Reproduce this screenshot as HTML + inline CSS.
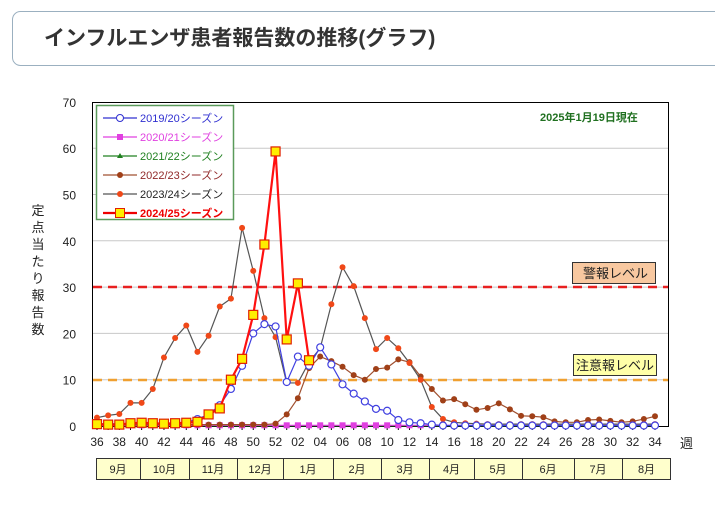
<!DOCTYPE html>
<html><head><meta charset="utf-8"><style>
body{margin:0;background:#fff;width:715px;height:502px;overflow:hidden;font-family:"Liberation Sans","Noto Sans CJK JP",sans-serif}
</style></head><body>
<svg id="s" width="715" height="502" xmlns="http://www.w3.org/2000/svg" font-family="Liberation Sans, Noto Sans CJK JP, sans-serif">
<rect x="12.5" y="11.5" width="720" height="54" rx="8" fill="#fff" stroke="#9bb0c0"/>
<text x="44" y="45" font-size="21" font-weight="bold" fill="#333">インフルエンザ患者報告数の推移(グラフ)</text>
<g id="grid"></g>
<rect x="92.5" y="102.5" width="576" height="324" fill="none" stroke="#000"/>
<line x1="93" y1="287" x2="668" y2="287" stroke="#e82020" stroke-width="2.5" stroke-dasharray="9,6"/>
<line x1="93" y1="380" x2="668" y2="380" stroke="#f0a030" stroke-width="2.5" stroke-dasharray="9,6"/>
<rect x="572.5" y="262.5" width="83" height="21" fill="#f8c8a0" stroke="#333"/>
<text x="583" y="278" font-size="13" fill="#222">警報レベル</text>
<rect x="573.5" y="354.5" width="83" height="21" fill="#ffffa8" stroke="#333"/>
<text x="576" y="370" font-size="13" fill="#222">注意報レベル</text>
<text x="540" y="121" font-size="11" font-weight="bold" fill="#207020">2025年1月19日現在</text>
<g id="series"></g>
<rect x="96.5" y="105.5" width="137" height="114" fill="#fff" stroke="#5a9a5a" stroke-width="1.5"/>
<g id="legend" font-size="11"></g>
<text x="680" y="448" font-size="13" fill="#222">週</text>
<g id="months" font-size="11" fill="#222"></g>
<g font-size="13" fill="#222" text-anchor="middle">
<text x="38" y="215">定</text><text x="38" y="232">点</text><text x="38" y="249">当</text><text x="38" y="266">た</text><text x="38" y="283">り</text><text x="38" y="300">報</text><text x="38" y="317">告</text><text x="38" y="334">数</text>
</g>
</svg>
<script>
var NS="http://www.w3.org/2000/svg";
function el(p,t,a,txt){var e=document.createElementNS(NS,t);for(var k in a)e.setAttribute(k,a[k]);if(txt!=null)e.textContent=txt;document.getElementById(p).appendChild(e);return e;}
function X(i){return 97+11.16*i}
function Y(v){return 426-v*4.63}
for(var v=0;v<=70;v+=10){var y=Y(v);if(v>0&&v<70)el("grid","line",{x1:93,y1:y,x2:668,y2:y,stroke:"#c8c8c8"});el("grid","text",{x:76,y:y+5,"font-size":12,"text-anchor":"end",fill:"#222"},v);}
var wk=[];for(var w=36;w<=52;w++)wk.push(w);for(var w=1;w<=34;w++)wk.push(w);
wk.forEach(function(w,i){el("grid","line",{x1:X(i),y1:426,x2:X(i),y2:430,stroke:"#000"});if(i%2==0)el("grid","text",{x:X(i),y:446,"font-size":12,"text-anchor":"middle",fill:"#222"},(w<10?"0":"")+w);});
var n=51;
function fill(a,v){while(a.length<n)a.push(v);return a}
var s19=fill([0.5,0.5,0.5,0.5,0.5,0.5,0.5,0.6,0.8,1.5,2.5,4.5,8,13,20,22,21.5,9.5,15,13,17,13.3,9,7,5.3,3.7,3.3,1.3,0.8,0.6,0.3],0.1);
var s20=fill([],0.15),s21=fill([],0.05);
var s22=fill([0.3,0.3,0.3,0.3,0.3,0.3,0.3,0.3,0.3,0.3,0.3,0.3,0.3,0.3,0.3,0.3,0.5,2.5,6,12.5,15,14,12.8,11,10,12.3,12.6,14.4,13.8,10.7,8,5.5,5.8,4.7,3.5,3.9,4.9,3.6,2.2,2.1,1.9,1.0,0.8,0.8,1.3,1.4,1.1,0.8,1.0,1.5,2.1],1);
var s23=fill([1.8,2.3,2.6,5,5,8,14.8,19,21.7,16,19.5,25.8,27.5,42.8,33.5,23.3,19.2,9.3,9.3,13.8,16.8,26.3,34.3,30.2,23.3,16.6,19,16.8,13.6,10,4.1,1.5,0.8,0.6,0.5],0.4);
var s24=[0.4,0.3,0.3,0.6,0.7,0.6,0.5,0.6,0.7,0.9,2.5,3.8,10,14.5,24,39.2,59.3,18.7,30.8,14.2];
function pts(a){return a.map(function(v,i){return X(i)+","+Y(v)}).join(" ")}
function draw(a,col,w,mk){el("series","polyline",{points:pts(a),fill:"none",stroke:col,"stroke-width":w});a.forEach(function(v,i){mk(X(i),Y(v))});}
draw(s21,"#208020",1.2,function(x,y){el("series","polygon",{points:(x-3)+","+(y+2)+" "+(x+3)+","+(y+2)+" "+x+","+(y-3),fill:"#208020"})});
draw(s20,"#e040e0",1.2,function(x,y){el("series","rect",{x:x-3,y:y-3,width:6,height:6,fill:"#e040e0"})});
draw(s22,"#a05030",1.2,function(x,y){el("series","circle",{cx:x,cy:y,r:3,fill:"#a04018"})});
draw(s23,"#555",1.2,function(x,y){el("series","circle",{cx:x,cy:y,r:3,fill:"#f04818"})});
draw(s19,"#4040e0",1.2,function(x,y){el("series","circle",{cx:x,cy:y,r:3.5,fill:"#fff",stroke:"#4040e0","stroke-width":1.2})});
draw(s24,"#ff1010",2.2,function(x,y){el("series","rect",{x:x-4.5,y:y-4.5,width:9,height:9,fill:"#ffee00",stroke:"#e02000","stroke-width":1.2})});
var L=[["2019/20シーズン","#3030d0","o"],["2020/21シーズン","#e040e0","s"],["2021/22シーズン","#208020","t"],["2022/23シーズン","#902828","c"],["2023/24シーズン","#222","c2"],["2024/25シーズン","#ee0000","b"]];
L.forEach(function(l,k){var y=118+k*19;var lc=l[2]=="c2"?"#555":(l[2]=="c"?"#a05030":l[1]);
el("legend","line",{x1:103,y1:y,x2:137,y2:y,stroke:lc,"stroke-width":l[2]=="b"?2.2:1.2});
if(l[2]=="o")el("legend","circle",{cx:120,cy:y,r:3.5,fill:"#fff",stroke:l[1]});
if(l[2]=="s")el("legend","rect",{x:117,y:y-3,width:6,height:6,fill:l[1]});
if(l[2]=="t")el("legend","polygon",{points:"117,"+(y+2)+" 123,"+(y+2)+" 120,"+(y-3),fill:l[1]});
if(l[2]=="c")el("legend","circle",{cx:120,cy:y,r:3,fill:"#a04018"});
if(l[2]=="c2")el("legend","circle",{cx:120,cy:y,r:3,fill:"#f04818"});
if(l[2]=="b")el("legend","rect",{x:115.5,y:y-4.5,width:9,height:9,fill:"#ffee00",stroke:"#e02000"});
el("legend","text",{x:140,y:y+4,fill:l[1],"font-weight":l[2]=="b"?"bold":"normal"},l[0]);});
var B=[96,140,189,237,283,333,381,429,474,522,574,622,671],M=["9月","10月","11月","12月","1月","2月","3月","4月","5月","6月","7月","8月"];
el("months","rect",{x:96.5,y:458.5,width:574,height:21,fill:"#ffffcc",stroke:"#333"});
for(var k=0;k<12;k++){if(k>0)el("months","line",{x1:B[k]+0.5,y1:458,x2:B[k]+0.5,y2:480,stroke:"#333"});el("months","text",{x:(B[k]+B[k+1])/2,y:473,"text-anchor":"middle"},M[k]);}
</script>
</body></html>
